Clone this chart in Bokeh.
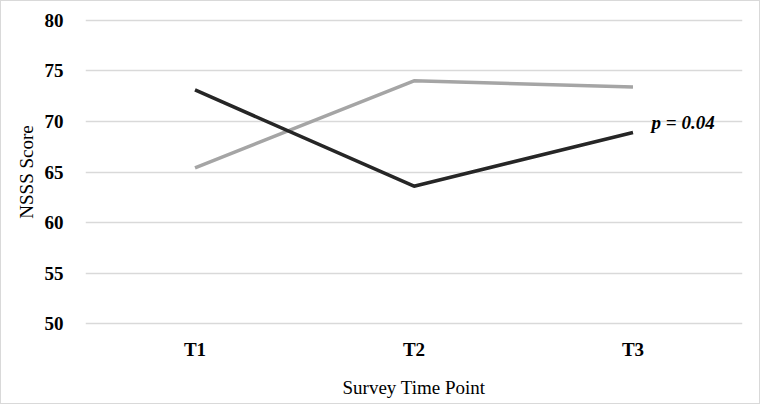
from bokeh.plotting import figure
from bokeh.models import Range1d, FactorRange, Label
from bokeh.embed import file_html
from bokeh.resources import INLINE

time_points = ["T1", "T2", "T3"]
series_dark = [73.1, 63.6, 68.9]
series_gray = [65.4, 74.0, 73.4]
y_ticks = [50, 55, 60, 65, 70, 75, 80]
annotation_text = "p = 0.04"

FONT = "Liberation Serif"

p = figure(width=760, height=404, output_backend="svg", toolbar_location=None,
           x_range=FactorRange(*time_points, range_padding=0),
           y_range=Range1d(49.85, 80.15))
p.min_border_left = 84
p.min_border_top = 17
p.min_border_right = 19
p.min_border_bottom = 80
p.outline_line_color = None
p.background_fill_color = "white"
p.border_fill_color = "white"
p.styles = {"border": "1px solid #d9d9d9", "box-sizing": "border-box"}

p.line(time_points, series_gray, line_color="#a5a5a5", line_width=3.5)
p.line(time_points, series_dark, line_color="#262626", line_width=3.5)

p.yaxis.ticker = y_ticks
p.xgrid.grid_line_color = None
p.ygrid.grid_line_color = "#d9d9d9"
p.ygrid.grid_line_width = 1.5

for ax in (p.xaxis[0], p.yaxis[0]):
    ax.axis_line_color = None
    ax.major_tick_line_color = None
    ax.minor_tick_line_color = None
    ax.major_label_text_font = FONT
    ax.major_label_text_font_style = "bold"
    ax.major_label_text_font_size = "19px"
    ax.major_label_text_color = "black"
    ax.axis_label_text_font = FONT
    ax.axis_label_text_font_style = "normal"
    ax.axis_label_text_font_size = "19px"
    ax.axis_label_text_color = "black"

p.yaxis.axis_label = "NSSS Score"
p.yaxis.major_label_standoff = 16
p.yaxis.axis_label_standoff = 5
p.xaxis.axis_label = "Survey Time Point"
p.xaxis.major_label_standoff = 7
p.xaxis.axis_label_standoff = 14

lab = Label(x=2.585, y=69.85, x_units="data", y_units="data", text=annotation_text,
            text_font=FONT, text_font_style="bold italic", text_font_size="19px",
            text_color="black", text_baseline="middle")
p.add_layout(lab)

open("out.html", "w").write(file_html(p, INLINE))
